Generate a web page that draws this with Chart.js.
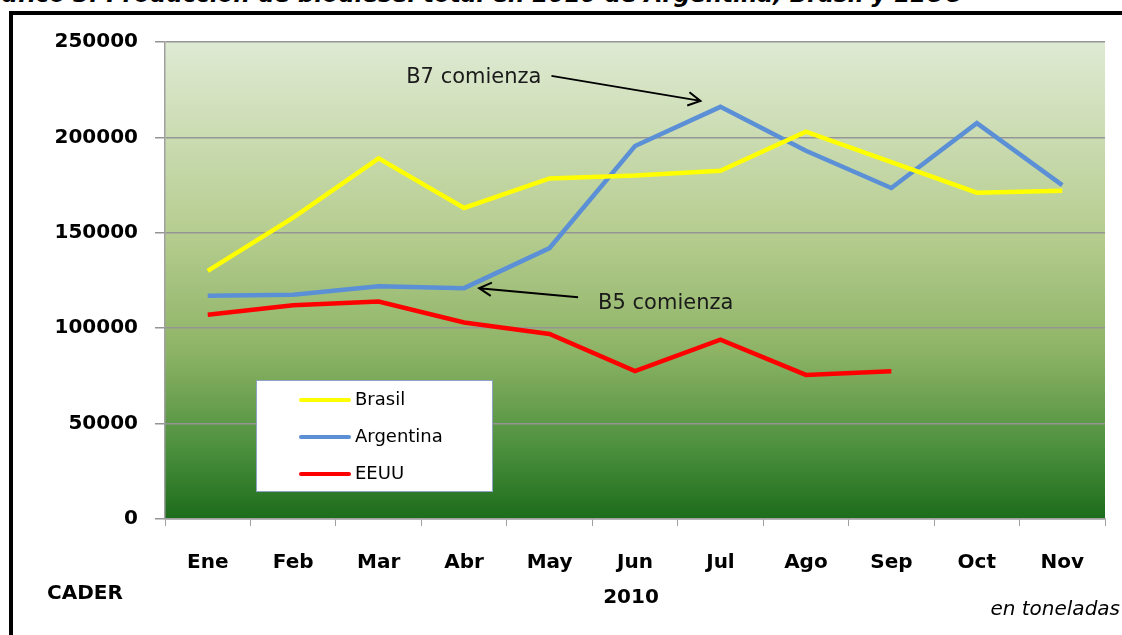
<!DOCTYPE html>
<html>
<head>
<meta charset="utf-8">
<script src="https://cdn.jsdelivr.net/npm/chart.js@4.4.1/dist/chart.umd.min.js"></script>
<style>
    body { margin: 0; background: #fff; overflow: hidden; }
    #wrap { position: relative; width: 1122px; height: 635px; overflow: hidden; }
    #frame { position: absolute; left: 9px; top: 11px; width: 1200px; height: 700px;
        border-left: 4px solid #000; border-top: 4px solid #000; }
    #title { position: absolute; left: -28px; top: -19px; white-space: nowrap;
        font: italic bold 23px "DejaVu Sans", sans-serif; color: #000; }
    canvas { position: absolute; left: 0; top: 0; }
</style>
</head>
<body>
<div id="wrap">
    <div id="title">Gráfico 3: Producción de biodiesel total en 2010 de Argentina, Brasil y EEUU</div>
    <div id="frame"></div>
    <canvas id="chart" width="1122" height="635"></canvas>
</div>
<script>
// ============================ data ==============================
const months = ['Ene', 'Feb', 'Mar', 'Abr', 'May', 'Jun', 'Jul', 'Ago', 'Sep', 'Oct', 'Nov'];
const brasil = [130000, 158000, 189000, 163000, 178500, 180000, 182500, 203000, 187000, 171000, 172000];
const argentina = [117000, 117500, 122000, 121000, 142000, 195500, 216000, 193000, 173500, 207500, 175000];
const eeuu = [107000, 112000, 114000, 103000, 97000, 77500, 94000, 75500, 77500, null, null];
const yTicks = [0, 50000, 100000, 150000, 200000, 250000];

// ============================ plugins ==============================
// gradient behind the plot area
const plotBackground = {
    id: 'plotBackground',
    beforeDraw(chart) {
        const {ctx, chartArea: a} = chart;
        const g = ctx.createLinearGradient(0, a.top, 0, a.bottom);
        g.addColorStop(0, '#dfead3');
        g.addColorStop(0.4, '#b6cd90');
        g.addColorStop(0.65, '#8db365');
        g.addColorStop(0.85, '#4c903d');
        g.addColorStop(1, '#1c6c1c');
        ctx.save();
        ctx.fillStyle = g;
        ctx.fillRect(a.left, a.top, a.right - a.left, a.bottom - a.top);
        ctx.restore();
    }
};

function arrow(ctx, x1, y1, x2, y2) {
    const ang = Math.atan2(y2 - y1, x2 - x1);
    const h = 14;
    ctx.beginPath();
    ctx.moveTo(x1, y1);
    ctx.lineTo(x2, y2);
    ctx.moveTo(x2 - h * Math.cos(ang - 0.5), y2 - h * Math.sin(ang - 0.5));
    ctx.lineTo(x2, y2);
    ctx.lineTo(x2 - h * Math.cos(ang + 0.5), y2 - h * Math.sin(ang + 0.5));
    ctx.stroke();
}

// notes, legend box and loose texts
const extras = {
    id: 'extras',
    afterDatasetsDraw(chart) {
        const {ctx, scales: {x, y}} = chart;
        ctx.save();
        ctx.strokeStyle = '#000';
        ctx.fillStyle = '#1a1a1a';
        ctx.lineWidth = 2;
        ctx.font = '21px "DejaVu Sans", sans-serif';
        ctx.textBaseline = 'middle';

        // B7 comienza -> Jul
        const jx = x.getPixelForValue(6) - 20, jy = y.getPixelForValue(argentina[6]) - 6;
        arrow(ctx, jx - 149, jy - 25, jx, jy);
        ctx.textAlign = 'right';
        ctx.fillText('B7 comienza', jx - 159, jy - 23);

        // B5 comienza -> Abr
        const ax = x.getPixelForValue(3) + 15, ay = y.getPixelForValue(argentina[3]);
        arrow(ctx, ax + 99, ay + 9, ax, ay);
        ctx.textAlign = 'left';
        ctx.fillText('B5 comienza', ax + 119, ay + 15);

        // legend
        ctx.fillStyle = '#fff';
        ctx.fillRect(256, 380, 236, 111);
        ctx.strokeStyle = '#8ea2c6';
        ctx.lineWidth = 1;
        ctx.strokeRect(256.5, 380.5, 236, 111);
        ctx.font = '18px "DejaVu Sans", sans-serif';
        chart.data.datasets.forEach((ds, i) => {
            const ly = 400 + i * 37;
            ctx.strokeStyle = ds.borderColor;
            ctx.lineWidth = 4;
            ctx.lineCap = 'round';
            ctx.beginPath();
            ctx.moveTo(301, ly);
            ctx.lineTo(349, ly);
            ctx.stroke();
            ctx.fillStyle = '#000';
            ctx.fillText(ds.label, 355, ly);
        });

        // bottom texts
        ctx.fillStyle = '#000';
        ctx.font = 'bold 20px "DejaVu Sans", sans-serif';
        ctx.fillText('CADER', 47, 594);
        ctx.textAlign = 'center';
        ctx.fillText('2010', 631, 598);
        ctx.textAlign = 'right';
        ctx.font = 'italic 20px "DejaVu Sans", sans-serif';
        ctx.fillText('en toneladas', 1120, 610);
        ctx.restore();
    }
};

// ============================ chart ==============================
const lineStyle = {borderWidth: 4.5, pointRadius: 0, tension: 0, fill: false, spanGaps: false};

new Chart(document.getElementById('chart'), {
    type: 'line',
    data: {
        labels: months,
        datasets: [
            {label: 'Brasil', data: brasil, borderColor: '#ffff00', ...lineStyle},
            {label: 'Argentina', data: argentina, borderColor: '#5b8fd6', ...lineStyle},
            {label: 'EEUU', data: eeuu, borderColor: '#ff0000', ...lineStyle}
        ]
    },
    options: {
        responsive: false,
        animation: false,
        layout: {padding: {top: 42, right: 17, left: 0, bottom: 0}},
        plugins: {
            legend: {display: false},
            tooltip: {enabled: false}
        },
        scales: {
            x: {
                offset: true,
                afterFit: s => { s.height = 116; },
                grid: {drawOnChartArea: false, drawTicks: true, tickLength: 7, color: '#a0a0a0', offset: true},
                border: {color: '#a0a0a0', width: 1.5},
                ticks: {
                    color: '#000',
                    font: {family: '"DejaVu Sans", sans-serif', size: 20, weight: 'bold'},
                    padding: 25,
                    maxRotation: 0
                }
            },
            y: {
                min: 0,
                max: 250000,
                afterFit: s => { s.width = 165; },
                afterBuildTicks: s => { s.ticks = yTicks.map(v => ({value: v})); },
                grid: {color: '#959595', lineWidth: 1.5, tickLength: 10},
                border: {color: '#a0a0a0', width: 1.5},
                ticks: {
                    color: '#000',
                    font: {family: '"DejaVu Sans", sans-serif', size: 20, weight: 'bold'},
                    padding: 17,
                    callback: v => String(v)
                }
            }
        }
    },
    plugins: [plotBackground, extras]
});
</script>
</body>
</html>
